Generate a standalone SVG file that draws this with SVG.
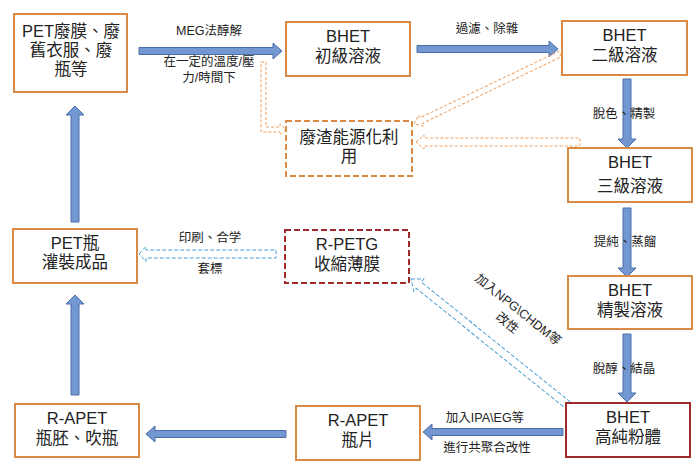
<svg xmlns="http://www.w3.org/2000/svg" width="698" height="471" viewBox="0 0 698 471">
<style>
.box{fill:#fff;stroke:#DA8A45;stroke-width:2}
.dbox{fill:#fff;stroke:#D98A45;stroke-width:2;stroke-dasharray:6 3}
.rbox{fill:#fff;stroke:#9E2A2B;stroke-width:2}
.rdbox{fill:#fff;stroke:#9E2A2B;stroke-width:2;stroke-dasharray:6 3}
.nt{font-family:"Liberation Sans","Noto Sans CJK TC",sans-serif;font-size:16.5px;fill:#222;text-anchor:middle}
.lt{font-family:"Liberation Sans","Noto Sans CJK TC",sans-serif;font-size:12.5px;fill:#222;text-anchor:middle}
.ba{fill:#7397D0;stroke:#4A6EA8;stroke-width:1}
.oa{fill:none;stroke:#EFA062;stroke-width:1;stroke-dasharray:3 2}
.bda{fill:none;stroke:#4A9FD4;stroke-width:1;stroke-dasharray:4 2}
</style>
<rect width="698" height="471" fill="#fff"/>
<g id="connectors">
<polygon class="ba" points="139,47.5 273,47.5 273,43 282,51 273,59 273,54.5 139,54.5"/>
<polygon class="ba" points="417,45.5 549,45.5 549,41 558,49 549,57 549,52.5 417,52.5"/>
<polygon class="ba" points="623,79 631,79 631,139 636,139 627,148 618,139 623,139"/>
<polygon class="ba" points="623,208 631,208 631,268 636,268 627,277 618,268 623,268"/>
<polygon class="ba" points="623,334 631,334 631,393 636,393 627,402 618,393 623,393"/>
<polygon class="ba" points="563,428.5 432,428.5 432,424 423,432 432,440 432,435.5 563,435.5"/>
<polygon class="ba" points="286,430.5 155,430.5 155,426 146,434 155,442 155,437.5 286,437.5"/>
<polygon class="ba" points="71,395 79,395 79,304 84,304 75,295 66,304 71,304"/>
<polygon class="ba" points="71,222 79,222 79,115 84,115 75,106 66,115 71,115"/>
<path class="oa" d="M261,62 L266,62 L266,127 L280,127 L280,124 L286,129.5 L280,135 L280,132 L261,132 Z"/>
<polygon class="oa" transform="translate(414,124) rotate(-25.6)" points="0,0 8,-6 8,-3 162,-3 162,3 8,3 8,6"/>
<polygon class="oa" transform="translate(416,142)" points="0,0 8,-7 8,-4 164,-4 164,4 8,4 8,7"/>
<polygon class="bda" transform="translate(139,254)" points="0,0 7,-7.5 7,-4 137,-4 137,4 7,4 7,7.5"/>
<polygon class="bda" transform="translate(411,279) rotate(38.8)" points="0,0 10,-8 10,-4 209,-4 209,4 10,4 10,8"/>
</g>
<g id="labels">
<text class="lt" x="209" y="35">MEG法醇解</text>
<text class="lt" x="209" y="66">在一定的溫度/壓<tspan x="209" dy="16">力/時間下</tspan></text>
<text class="lt" x="487" y="33">過濾、除雜</text>
<text class="lt" x="624" y="118">脫色、精製</text>
<text class="lt" x="625" y="246">提純、蒸餾</text>
<text class="lt" x="624" y="373">脫醇、結晶</text>
<text class="lt" x="485" y="422">加入IPA\EG等</text>
<text class="lt" x="487" y="452">進行共聚合改性</text>
<text class="lt" x="210" y="242">印刷、合学</text>
<text class="lt" x="210" y="273">套標</text>
<text class="lt" transform="translate(513,316) rotate(38.8)" x="0" y="-4">加入NPG\CHDM等<tspan x="0" dy="17">改性</tspan></text>
</g>
<g id="n-pet-waste">
<rect class="box" x="14" y="14" width="113" height="78"/>
<text class="nt" x="71" y="37">PET廢膜、廢<tspan x="71" dy="19">舊衣服、廢</tspan><tspan x="71" dy="19">瓶等</tspan></text>
</g>
<g id="n-bhet1">
<rect class="box" x="286" y="22" width="124" height="54"/>
<text class="nt" x="348" y="42">BHET<tspan x="348" dy="20">初級溶液</tspan></text>
</g>
<g id="n-bhet2">
<rect class="box" x="562" y="21" width="125" height="54"/>
<text class="nt" x="624.5" y="41">BHET<tspan x="624.5" dy="20">二級溶液</tspan></text>
</g>
<g id="n-waste-energy">
<rect class="dbox" x="286" y="121" width="126" height="55"/>
<text class="nt" x="349" y="143">廢渣能源化利<tspan x="349" dy="19">用</tspan></text>
</g>
<g id="n-bhet3">
<rect class="box" x="568" y="148" width="124" height="54"/>
<text class="nt" x="630" y="168">BHET<tspan x="630" dy="24">三級溶液</tspan></text>
</g>
<g id="n-bhet-refined">
<rect class="box" x="568" y="276" width="124" height="53"/>
<text class="nt" x="630" y="296">BHET<tspan x="630" dy="20">精製溶液</tspan></text>
</g>
<g id="n-bhet-powder">
<rect class="rbox" x="566" y="403" width="124" height="54"/>
<text class="nt" x="628" y="423">BHET<tspan x="628" dy="20">高純粉體</tspan></text>
</g>
<g id="n-rapet-chip">
<rect class="box" x="296" y="406" width="124" height="54"/>
<text class="nt" x="358" y="426">R-APET<tspan x="358" dy="20">瓶片</tspan></text>
</g>
<g id="n-rapet-preform">
<rect class="box" x="15" y="404" width="124" height="53"/>
<text class="nt" x="77" y="424">R-APET<tspan x="77" dy="20">瓶胚、吹瓶</tspan></text>
</g>
<g id="n-pet-bottle">
<rect class="box" x="13" y="229" width="124" height="54"/>
<text class="nt" x="75" y="249">PET瓶<tspan x="75" dy="19">灌裝成品</tspan></text>
</g>
<g id="n-rpetg">
<rect class="rdbox" x="285" y="230" width="124" height="53"/>
<text class="nt" x="347" y="250">R-PETG<tspan x="347" dy="20">收縮薄膜</tspan></text>
</g>
</svg>
